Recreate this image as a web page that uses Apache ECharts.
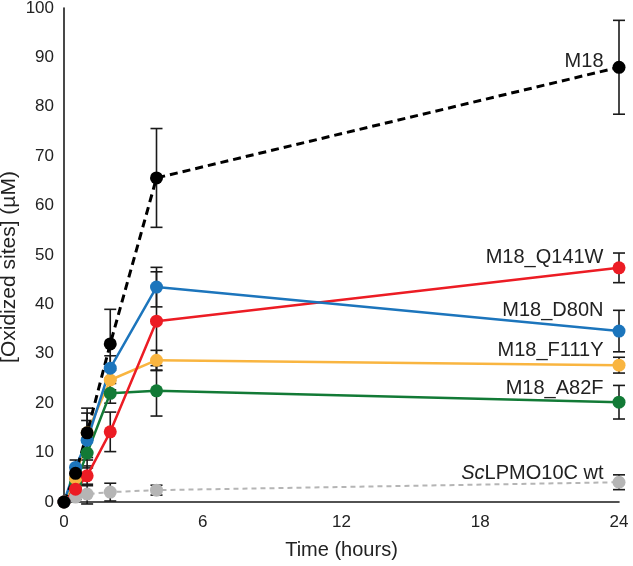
<!DOCTYPE html>
<html>
<head>
<meta charset="utf-8">
<script src="https://cdn.jsdelivr.net/npm/echarts@6/dist/echarts.min.js"></script>
<style>html,body{margin:0;padding:0;background:#fff}#c{width:633px;height:566px}</style>
</head>
<body>
<div id="c"></div>
<script>
// Time points (hours)
var times = [0, 0.5, 1, 2, 4, 24];
var xTicks = [0, 6, 12, 18, 24];

// Series names
var names = ['M18', 'M18_Q141W', 'M18_D80N', 'M18_F111Y', 'M18_A82F', 'ScLPMO10C wt'];

// Values [Oxidized sites] (µM)
var m18      = [0, 5.8, 14.0, 32.0, 65.6, 88.0];
var q141w    = [0, 2.6, 5.3, 14.2, 36.6, 47.4];
var d80n     = [0, 7.0, 12.5, 27.1, 43.5, 34.6];
var f111y    = [0, 4.8, 14.0, 24.7, 28.7, 27.7];
var a82f     = [0, 3.8, 9.9, 22.0, 22.5, 20.2];
var wt       = [0, 1.0, 1.6, 2.0, 2.4, 4.0];

// Error (± µM)
var m18Err   = [0, 1.2, 5.0, 7.0, 10.0, 9.5];
var q141wErr = [0, 0.8, 2.0, 4.0, 10.0, 3.0];
var d80nErr  = [0, 1.5, 4.0, 2.5, 4.0, 4.2];
var f111yErr = [0, 1.0, 4.0, 2.0, 2.0, 1.6];
var a82fErr  = [0, 1.0, 3.0, 2.0, 5.1, 3.4];
var wtErr    = [0, 0.5, 2.0, 1.8, 1.0, 1.5];

var colors = ['#000000', '#ec1c24', '#1c75bc', '#f9b540', '#127a36', '#b5b5b5'];
var lineTypes = [[8, 5], 'solid', 'solid', 'solid', 'solid', [5, 4]];
var lineWidths = [3, 2.5, 2.5, 2.5, 2.5, 2];
var labelOffsets = [[0, -6], [0, -10], [0, -21], [0, -15], [0, -14], [0, -9]];
var labelTexts = ['M18', 'M18_Q141W', 'M18_D80N', 'M18_F111Y', 'M18_A82F', '{i|Sc}LPMO10C wt'];

var values = [m18, q141w, d80n, f111y, a82f, wt];
var errors = [m18Err, q141wErr, d80nErr, f111yErr, a82fErr, wtErr];

var FONT = 'Liberation Sans, Arial, sans-serif';
var series = [];
// error bars
values.forEach(function (vals, si) {
  var d = vals.map(function (v, i) { return [times[i], v - errors[si][i], v + errors[si][i]]; });
  series.push({
    type: 'custom',
    z: 1,
    silent: true,
    data: d,
    encode: { x: 0, y: [1, 2] },
    renderItem: function (params, api) {
      var x = api.value(0);
      var lo = api.coord([x, api.value(1)]);
      var hi = api.coord([x, api.value(2)]);
      if (Math.abs(hi[1] - lo[1]) < 1) return null;
      var w = 6;
      var st = { stroke: '#1a1a1a', lineWidth: 1.6 };
      return {
        type: 'group',
        children: [
          { type: 'line', shape: { x1: lo[0], y1: lo[1], x2: hi[0], y2: hi[1] }, style: st },
          { type: 'line', shape: { x1: lo[0] - w, y1: lo[1], x2: lo[0] + w, y2: lo[1] }, style: st },
          { type: 'line', shape: { x1: hi[0] - w, y1: hi[1], x2: hi[0] + w, y2: hi[1] }, style: st }
        ]
      };
    }
  });
});
// lines (draw gray first so others overlay)
var order = [5, 4, 3, 1, 2, 0];
order.forEach(function (si) {
  var vals = values[si];
  var d = vals.map(function (v, i) {
    var item = { value: [times[i], v] };
    if (i === vals.length - 1) {
      item.label = {
        show: true,
        position: 'left',
        distance: 9,
        offset: labelOffsets[si],
        formatter: labelTexts[si],
        fontFamily: FONT,
        fontSize: 20,
        color: '#222',
        rich: { i: { fontStyle: 'italic', fontSize: 20, color: '#222', fontFamily: FONT } }
      };
    }
    return item;
  });
  series.push({
    name: names[si],
    type: 'line',
    z: 3,
    data: d,
    symbol: 'circle',
    symbolSize: 13,
    showSymbol: true,
    itemStyle: { color: colors[si], borderWidth: 0 },
    lineStyle: { color: colors[si], width: lineWidths[si], type: lineTypes[si] },
    emphasis: { disabled: true },
    animation: false
  });
});

var chart = echarts.init(document.getElementById('c'));
chart.setOption({
  animation: false,
  backgroundColor: '#fff',
  grid: { left: 64, right: 14, top: 8, bottom: 64, containLabel: false, outerBoundsMode: 'none' },
  xAxis: {
    type: 'value',
    min: 0, max: 24, interval: 6,
    name: 'Time (hours)',
    nameLocation: 'middle',
    nameGap: 38,
    nameMoveOverlap: false,
    nameTextStyle: { fontSize: 20, color: '#222', fontFamily: FONT },
    axisLine: { show: true, onZero: false, lineStyle: { color: '#1a1a1a', width: 1.6 } },
    axisTick: { show: false },
    splitLine: { show: false },
    axisLabel: {
      fontSize: 17, color: '#222', margin: 12, fontFamily: FONT,
      formatter: function (v) { return xTicks.indexOf(v) >= 0 ? String(v) : ''; }
    }
  },
  yAxis: {
    type: 'value',
    min: 0, max: 100, interval: 10,
    name: '[Oxidized sites] (µM)',
    nameLocation: 'middle',
    nameGap: 44,
    nameMoveOverlap: false,
    nameTextStyle: { fontSize: 21, color: '#222', fontFamily: FONT, padding: [0, 24, 0, 0] },
    axisLine: { show: true, lineStyle: { color: '#1a1a1a', width: 1.6 } },
    axisTick: { show: false },
    splitLine: { show: false },
    axisLabel: { fontSize: 17, color: '#222', margin: 10, fontFamily: FONT }
  },
  series: series
});
</script>
</body>
</html>
